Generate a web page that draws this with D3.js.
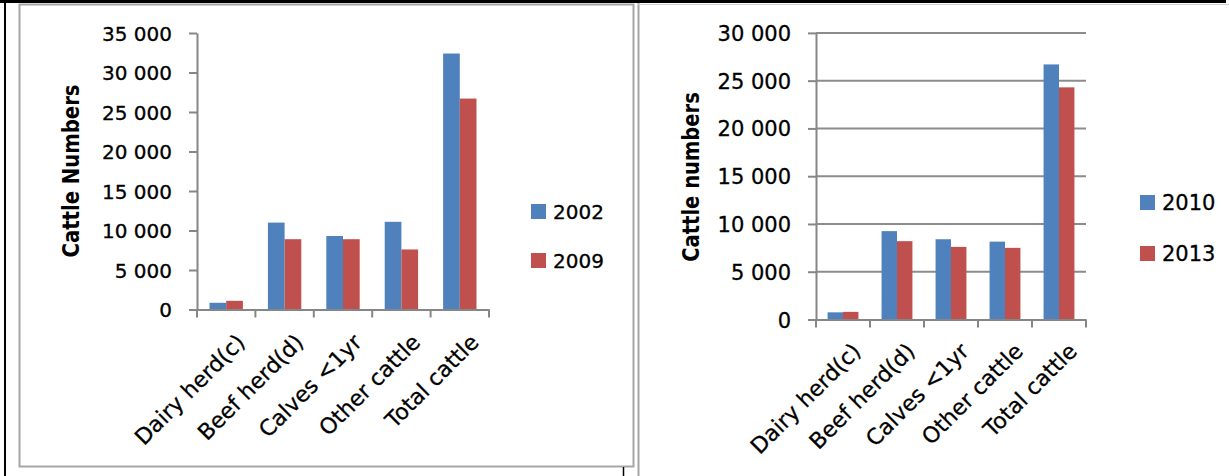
<!DOCTYPE html>
<html><head><meta charset="utf-8">
<script src="https://cdn.jsdelivr.net/npm/d3@7"></script>
<style>
html,body{margin:0;padding:0;background:#fff;}
svg{display:block;font-family:"DejaVu Sans",sans-serif;}
</style></head><body>
<svg id="c" width="1229" height="476"></svg>
<script>
const categories = ["Dairy herd(c)", "Beef herd(d)", "Calves <1yr", "Other cattle", "Total cattle"];
const leftYears = ["2002", "2009"];
const left2002 = [850, 11000, 9300, 11100, 32400];
const left2009 = [1100, 8900, 8900, 7600, 26700];
const rightYears = ["2010", "2013"];
const right2010 = [750, 9250, 8400, 8150, 26700];
const right2013 = [800, 8200, 7600, 7500, 24300];
const leftTicks = [0, 5000, 10000, 15000, 20000, 25000, 30000, 35000];
const rightTicks = [0, 5000, 10000, 15000, 20000, 25000, 30000];
const leftTitle = "Cattle Numbers";
const rightTitle = "Cattle numbers";
const colors = ["#4F81BD", "#C0504D"];

const fmt = d3.formatLocale({decimal: ".", thousands: " ", grouping: [3], currency: ["", ""]}).format(",");
const svg = d3.select("#c");
svg.append("rect").attr("width", 1229).attr("height", 476).attr("fill", "#fff");

// page frame / table borders
const frame = svg.append("g");
frame.append("rect").attr("x", 0).attr("y", 0).attr("width", 1226).attr("height", 3).attr("fill", "#000");
frame.append("rect").attr("x", 4).attr("y", 0).attr("width", 2).attr("height", 476).attr("fill", "#000");
frame.append("rect").attr("x", 36).attr("y", 0).attr("width", 7).attr("height", 3).attr("fill", "#000");
frame.append("rect").attr("x", 19.5).attr("y", 4.5).attr("width", 614).attr("height", 462).attr("fill", "none").attr("stroke", "#a6a6a6").attr("stroke-width", 2);
frame.append("line").attr("x1", 638.5).attr("x2", 638.5).attr("y1", 3).attr("y2", 476).attr("stroke", "#a6a6a6").attr("stroke-width", 2);
frame.append("line").attr("x1", 638).attr("x2", 1229).attr("y1", 4.5).attr("y2", 4.5).attr("stroke", "#d0d0d0").attr("stroke-width", 1);
frame.append("line").attr("x1", 623.5).attr("x2", 623.5).attr("y1", 467).attr("y2", 476).attr("stroke", "#000").attr("stroke-width", 1.5);

function drawChart(o) {
  const g = svg.append("g");
  const x = d3.scaleBand().domain(categories).range([o.left, o.right]).paddingInner(0).paddingOuter(0);
  const x1 = d3.scaleBand().domain(o.names).range([0, x.bandwidth()]).paddingInner(0).paddingOuter(0.75);
  const y = d3.scaleLinear().domain([0, o.max]).range([o.base, o.top]);

  if (o.grid) {
    g.append("g").selectAll("line").data(o.ticks.filter(t => t > 0)).join("line")
      .attr("x1", o.left).attr("x2", o.right)
      .attr("y1", d => y(d)).attr("y2", d => y(d))
      .attr("stroke", "#8c8c8c").attr("stroke-width", 2);
  }

  const rows = categories.map((c, i) => ({c, vals: o.names.map((n, k) => ({n, k, v: o.series[k][i]}))}));
  g.append("g").selectAll("g").data(rows).join("g")
    .attr("transform", d => `translate(${x(d.c)},0)`)
    .selectAll("rect").data(d => d.vals).join("rect")
    .attr("x", d => x1(d.n)).attr("width", x1.bandwidth())
    .attr("y", d => y(d.v)).attr("height", d => y(0) - y(d.v))
    .attr("fill", d => colors[d.k]);

  // y axis
  const yg = g.append("g").attr("transform", `translate(${o.left},0)`)
    .call(d3.axisLeft(y).tickValues(o.ticks).tickFormat(fmt).tickSize(8).tickSizeOuter(0).tickPadding(17));
  yg.attr("font-family", null).attr("font-size", o.fs);
  yg.select(".domain").attr("stroke", "#868686").attr("stroke-width", 2);
  yg.selectAll(".tick line").attr("stroke", "#868686").attr("stroke-width", 2);
  yg.selectAll(".tick text").attr("fill", "#000").attr("stroke", "#000").attr("stroke-width", 0.3).attr("dy", "0.36em");

  // x axis
  const xg = g.append("g").attr("transform", `translate(0,${o.base})`)
    .call(d3.axisBottom(x).tickSize(0).tickSizeOuter(0).tickPadding(0));
  xg.attr("font-family", null).attr("font-size", o.xfs);
  xg.select(".domain").attr("stroke", "#868686").attr("stroke-width", 2);
  xg.selectAll(".tick text").attr("fill", "#000").attr("stroke", "#000").attr("stroke-width", 0.3)
    .attr("text-anchor", "end")
    .attr("y", 0).attr("dy", "0.72em")
    .attr("transform", `translate(${o.ldx},${o.ldy}) rotate(-45)`);
  const bounds = categories.map(c => x(c)).concat([o.right]);
  g.append("g").selectAll("line").data(bounds).join("line")
    .attr("x1", d => d).attr("x2", d => d)
    .attr("y1", o.base).attr("y2", o.base + 8)
    .attr("stroke", "#868686").attr("stroke-width", 2);

  // y title
  g.append("text").attr("transform", `translate(${o.tx},${o.ty}) rotate(-90) scale(${o.tsx},1)`)
    .attr("text-anchor", "middle").attr("dy", "0.36em")
    .attr("font-weight", "bold").attr("font-size", o.tfs).text(o.title);

  // legend
  const lg = g.append("g").selectAll("g").data(o.names).join("g")
    .attr("transform", (d, k) => `translate(${o.lx},${o.ly + k * o.lstep})`);
  lg.append("rect").attr("x", 0).attr("y", -15).attr("width", 15).attr("height", 15).attr("fill", (d, k) => colors[k]);
  lg.append("text").attr("x", 22).attr("y", 0).attr("font-size", o.fs)
    .attr("fill", "#000").attr("stroke", "#000").attr("stroke-width", 0.3).text(d => d);
}

drawChart({
  left: 197, right: 489, base: 309.5, top: 33, max: 35000, ticks: leftTicks,
  names: leftYears, series: [left2002, left2009], grid: false, fs: 20, xfs: 22,
  ldx: 9, ldy: 23, title: leftTitle, tx: 71, ty: 171, tfs: 23, tsx: 0.855,
  lx: 531, ly: 219, lstep: 49
});
drawChart({
  left: 816, right: 1086, base: 319.5, top: 32.9, max: 30000, ticks: rightTicks,
  names: rightYears, series: [right2010, right2013], grid: true, fs: 21, xfs: 22,
  ldx: 8, ldy: 22, title: rightTitle, tx: 691, ty: 177, tfs: 23, tsx: 0.85,
  lx: 1140, ly: 210, lstep: 51
});
</script>
</body></html>
